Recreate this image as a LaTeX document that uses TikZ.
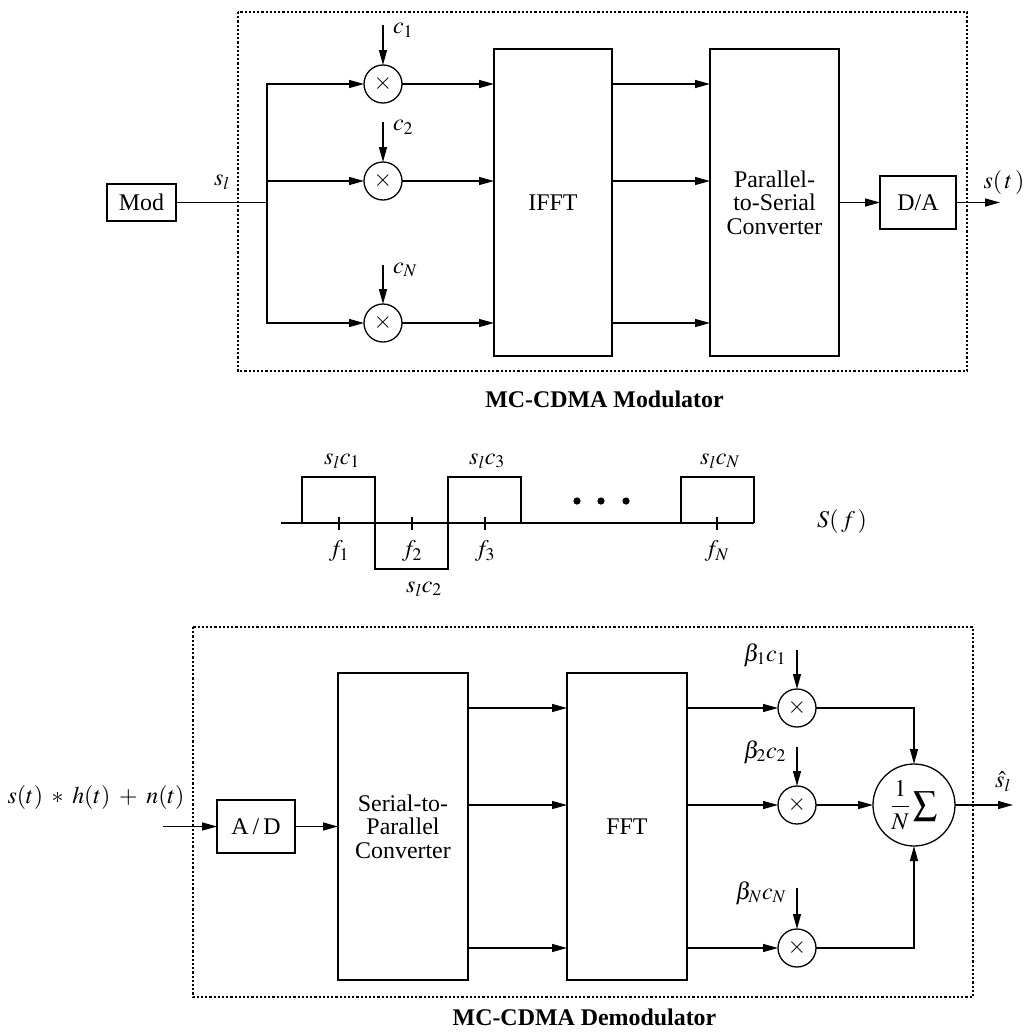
\documentclass[tikz,border=0pt]{standalone}
\usepackage{mathptmx}
\usepackage[no-math]{fontspec}
\setmainfont{Liberation Serif}
\usetikzlibrary{arrows.meta}
\begin{document}
\begin{tikzpicture}[x=1bp,y=-1bp,
  >={Triangle[length=15bp,width=8bp]},
  line width=1.3bp,
  every node/.style={font=\fontsize{24}{23.5}\selectfont, inner sep=0pt, outer sep=0pt},
  blk/.style={draw, align=center},
  mult/.style={draw, circle, minimum size=38bp},
  dotbox/.style={line width=2.5bp, dash pattern=on 2.2bp off 2bp},
  captxt/.style={font=\fontsize{24}{24}\selectfont\bfseries}]
\useasboundingbox (0,0) rectangle (1029,1033);

% ===== Modulator =====
\draw[dotbox] (238,12) rectangle (967,371);
\node[blk, minimum width=69bp, minimum height=37bp] (mod) at (141.5,202.5) {Mod};
\coordinate (br) at (267,202.5);
\node[mult] (m1) at (383,84) {$\times$};
\node[mult] (m2) at (383,181) {$\times$};
\node[mult] (mN) at (383,323) {$\times$};
\node[blk, minimum width=118bp, minimum height=307bp] (ifft) at (553,202.5) {IFFT};
\node[blk, minimum width=129bp, minimum height=307bp] (ps) at (774.5,202.5) {Parallel-\\to-Serial\\Converter};
\node[blk, minimum width=76bp, minimum height=53bp] (da) at (918,202.5) {D/A};
\coordinate (out1) at (1000,202.5);
\coordinate (c1s) at (383,25);
\coordinate (c2s) at (383,122);
\coordinate (cNs) at (383,265);

\draw (mod) -- (br);
\draw[->] (br) |- (m1);
\draw[->] (br) -- (m2 -| br) -- (m2);
\draw[->] (br) |- (mN);
\draw[->] (c1s) -- (m1);
\draw[->] (c2s) -- (m2);
\draw[->] (cNs) -- (mN);
\draw[->] (m1) -- (m1 -| ifft.west);
\draw[->] (m2) -- (m2 -| ifft.west);
\draw[->] (mN) -- (mN -| ifft.west);
\draw[->] (ifft.east |- m1) -- (ps.west |- m1);
\draw[->] (ifft.east |- m2) -- (ps.west |- m2);
\draw[->] (ifft.east |- mN) -- (ps.west |- mN);
\draw[->] (ps.east |- da) -- (da);
\draw[->] (da) -- (out1);

\node (lsl) at (222,182) {$s_l$};
\node (lc1) [anchor=west] at (393,30) {$c_1$};
\node (lc2) [anchor=west] at (393,127) {$c_2$};
\node (lcN) [anchor=west] at (393,270) {$c_N$};
\node (lst) at (1004,183) {$s(\,t\,)$};
\node[captxt] (capmod) at (604.5,399) {MC-CDMA Modulator};

% ===== Spectrum =====
\draw (281,523) -- (754,523);
\draw (302,523) -- (302,477) -- (375,477) -- (375,569) -- (448,569) -- (448,477) -- (521,477) -- (521,523);
\draw (681,523) -- (681,477) -- (754,477) -- (754,523);
\foreach \x in {339,412,485,717} \draw (\x,517) -- (\x,530);
\fill (577,501) circle (3.6bp) (601,501) circle (3.6bp) (626,501) circle (3.6bp);
\node (f1) at (339,551) {$f_1$};
\node (f2) at (412,551) {$f_2$};
\node (f3) at (485,551) {$f_3$};
\node (fN) at (717,551) {$f_N$};
\node (sc1) at (342,461) {$s_lc_1$};
\node (sc3) at (487,461) {$s_lc_3$};
\node (scN) at (720,461) {$s_lc_N$};
\node (sc2) at (424,589) {$s_lc_2$};
\node (Sf) at (842,522) {$S(\,f\,)$};

% ===== Demodulator =====
\draw[dotbox] (193,627) rectangle (973,997);
\coordinate (in2) at (163,826.5);
\node[blk, minimum width=78bp, minimum height=53bp] (ad) at (256,826.5) {A\,/\,D};
\node[blk, minimum width=130bp, minimum height=307bp] (sp) at (403,826.5) {Serial-to-\\Parallel\\Converter};
\node[blk, minimum width=120bp, minimum height=307bp] (fft) at (627,826.5) {FFT};
\node[mult] (d1) at (797,708) {$\times$};
\node[mult] (d2) at (797,805) {$\times$};
\node[mult] (dN) at (797,948) {$\times$};
\node[draw, circle, minimum size=82bp] (sum) at (914,805) {$\displaystyle\frac{1}{N}\sum$};
\coordinate (out2) at (1013,805);
\coordinate (b1s) at (797,650);
\coordinate (b2s) at (797,747);
\coordinate (bNs) at (797,888);

\draw[->] (in2) -- (ad);
\draw[->] (ad) -- (ad -| sp.west);
\draw[->] (sp.east |- d1) -- (fft.west |- d1);
\draw[->] (sp.east |- d2) -- (fft.west |- d2);
\draw[->] (sp.east |- dN) -- (fft.west |- dN);
\draw[->] (fft.east |- d1) -- (d1);
\draw[->] (fft.east |- d2) -- (d2);
\draw[->] (fft.east |- dN) -- (dN);
\draw[->] (b1s) -- (d1);
\draw[->] (b2s) -- (d2);
\draw[->] (bNs) -- (dN);
\draw[->] (d1) -| (sum);
\draw[->] (d2) -- (sum);
\draw[->] (dN) -| (sum);
\draw[->] (sum) -- (out2);

\node (lin) at (96,798) {$s(t)\;*\;h(t)\;+\;n(t)$};
\node (lb1) [anchor=east] at (786,655) {$\beta_1c_1$};
\node (lb2) [anchor=east] at (786,752) {$\beta_2c_2$};
\node (lbN) [anchor=east] at (786,893) {$\beta_Nc_N$};
\node (lsh) at (1003,782) {$\hat{s}_l$};
\node[captxt] (capdem) at (584.5,1017) {MC-CDMA Demodulator};
\end{tikzpicture}
\end{document}
